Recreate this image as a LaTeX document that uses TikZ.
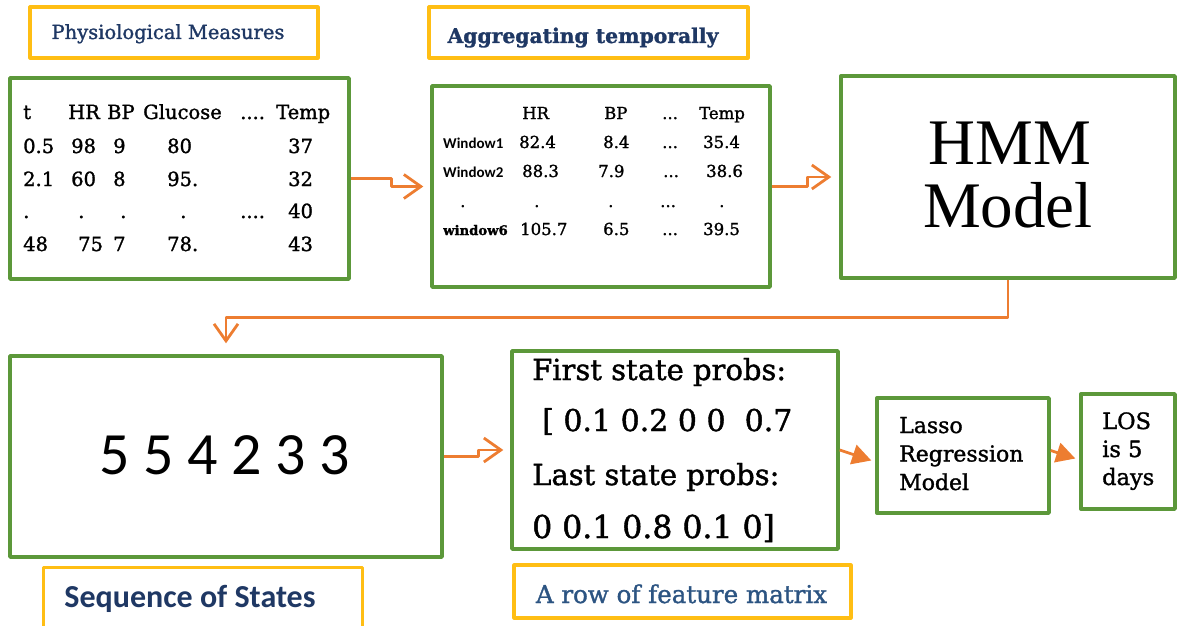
\documentclass[tikz,border=0pt]{standalone}
\usepackage{fontspec}
\setmainfont[FakeBold=1.4]{DejaVu Serif}
\newfontfamily\timesfont{Liberation Serif}
\newfontfamily\calfont{Carlito}
\usetikzlibrary{arrows.meta}
\definecolor{boxgreen}{RGB}{92,152,58}
\definecolor{flowor}{RGB}{237,125,49}
\definecolor{labgold}{RGB}{255,190,20}
\definecolor{navy}{RGB}{31,56,100}
\definecolor{steel}{RGB}{44,84,130}
\newcommand{\fourdot}{....}
\newcommand{\threedot}{...}
\tikzset{
  stage/.style={draw=boxgreen, line width=3.4pt, fill=white, inner sep=0pt},
  tag/.style={draw=labgold, line width=3.2pt, inner sep=0pt},
  cell/.style={anchor=base west, inner sep=0pt},
  caption/.style={anchor=base, inner sep=0pt},
  elbow/.style={draw=flowor, line width=2.8pt, -{Straight Barb[length=17pt,width=24pt]}},
  push/.style={draw=flowor, line width=2.8pt, -{Triangle[length=19pt,width=20pt]}},
}
\begin{document}
\begin{tikzpicture}[x=1pt, y=-1pt, line join=round]
\clip (0,0) rectangle (1178,626);
% boxes
\node[stage, minimum width=339pt, minimum height=201pt] (phys) at (179.5,178.5) {};
\node[stage, minimum width=338pt, minimum height=201pt] (agg) at (601,186.5) {};
\node[stage, minimum width=334pt, minimum height=202pt] (hmm) at (1008,177) {};
\node[stage, minimum width=432pt, minimum height=201pt] (seq) at (226,456.5) {};
\node[stage, minimum width=326pt, minimum height=198pt] (feat) at (675,450) {};
\node[stage, minimum width=172pt, minimum height=115pt] (lasso) at (963,455.5) {};
\node[stage, minimum width=94pt, minimum height=115pt] (los) at (1128,451.5) {};
% labels
\node[tag, minimum width=288pt, minimum height=51pt] (physlab) at (174,32.5) {};
\node[caption, text=navy, font=\fontsize{19.5}{23}\selectfont] (physcap) at (168,39) {Physiological Measures};
\node[tag, minimum width=319pt, minimum height=51pt] (agglab) at (588.5,32.5) {};
\node[caption, text=navy, font=\bfseries\fontsize{20.3}{24}\selectfont] (aggcap) at (583,43) {Aggregating temporally};
\node[tag, minimum width=319pt, minimum height=90pt, anchor=north west] (seqlab) at (42,566) {};
\node[caption, text=navy, font=\calfont\bfseries\fontsize{32}{36}\selectfont] (seqcap) at (190,607) {Sequence of States};
\node[tag, minimum width=337pt, minimum height=53pt] (featlab) at (682.5,591.5) {};
\node[caption, text=steel, font=\fontsize{24.5}{28}\selectfont] (featcap) at (681.5,603) {A row of feature matrix};
% raw measures
\foreach \py/\row [count=\r] in {119/{23/t,68/HR,107/BP,143/Glucose,240/\fourdot,276/Temp},
    153/{23/0.5,71/98,113/9,167/80,288/37}, 186/{23/2.1,71/60,113/8,167/95.,288/32},
    218/{23/.,78/.,120/.,180/.,240/\fourdot,288/40}, 251/{23/48,78/75,113/7,167/78.,288/43}}
  \foreach \px/\txt [count=\c] in \row
    \node[cell, font=\fontsize{19.5}{23}\selectfont] (ph\r-\c) at (\px,\py) {\txt};
% windows
\foreach \py/\row [count=\r] in {119/{522/HR,604/BP,662/\threedot,699/Temp},
    148/{519/82.4,603/8.4,662/\threedot,703/35.4}, 177/{522/88.3,598/7.9,663/\threedot,706/38.6},
    207/{460/.,534/.,608/.,660/\threedot,719/.}, 235/{520/105.7,603/6.5,662/\threedot,703/39.5}}
  \foreach \px/\txt [count=\c] in \row
    \node[cell, font=\fontsize{16.5}{20}\selectfont] (ag\r-\c) at (\px,\py) {\txt};
\node[cell, font=\calfont\bfseries\fontsize{15}{18}\selectfont] (win1) at (443,148) {Window1};
\node[cell, font=\calfont\bfseries\fontsize{15}{18}\selectfont] (win2) at (443,177) {Window2};
\node[cell, font=\bfseries\fontsize{13.2}{15}\selectfont] (win6) at (443,235) {window6};
% model and outputs
\node[caption, font=\timesfont\fontsize{65}{70}\selectfont] (hmm1) at (1010,164) {HMM};
\node[caption, font=\timesfont\fontsize{65}{70}\selectfont] (hmm2) at (1008,227) {Model};
\node[caption, font=\calfont\fontsize{60}{70}\selectfont] (states) at (224.5,474) {5 5 4 2 3 3};
\node[cell, font=\fontsize{29}{34}\selectfont] (first) at (532,380) {First state probs:};
\node[cell, font=\fontsize{30}{34}\selectfont] (firstv) at (542,431) {[ 0.1 0.2 0 0 \ 0.7};
\node[cell, font=\fontsize{29}{34}\selectfont] (last) at (532,485) {Last state probs:};
\node[cell, font=\fontsize{31.5}{34}\selectfont] (lastv) at (532,538) {0 0.1 0.8 0.1 0]};
\foreach \txt [count=\i] in {Lasso, Regression, Model}
  \node[cell, font=\fontsize{22}{26}\selectfont] (lasso\i) at (899,404.5+28.5*\i) {\txt};
\foreach \txt [count=\i] in {LOS, is 5, days}
  \node[cell, font=\fontsize{22.5}{26}\selectfont] (los\i) at (1102,401+28*\i) {\txt};
% flow
\draw[elbow] (phys.east) -- ++(41,0) |- ([xshift=-7pt]agg.west);
\draw[elbow] (agg.east) -- ++(36,0) |- ([xshift=-8pt]hmm.west);
\draw[elbow] (hmm.south) -- ++(0,38) -| ([yshift=11pt]seq.north);
\draw[elbow] (seq.east) -- ++(35,0) |- ([xshift=-7pt]feat.west);
\draw[push] (feat.east) -- ([xshift=-4pt,yshift=-5pt]lasso.west);
\draw[push] ([yshift=5pt]lasso.east) -- ([xshift=-4pt,yshift=-7pt]los.west);
\end{tikzpicture}
\end{document}
